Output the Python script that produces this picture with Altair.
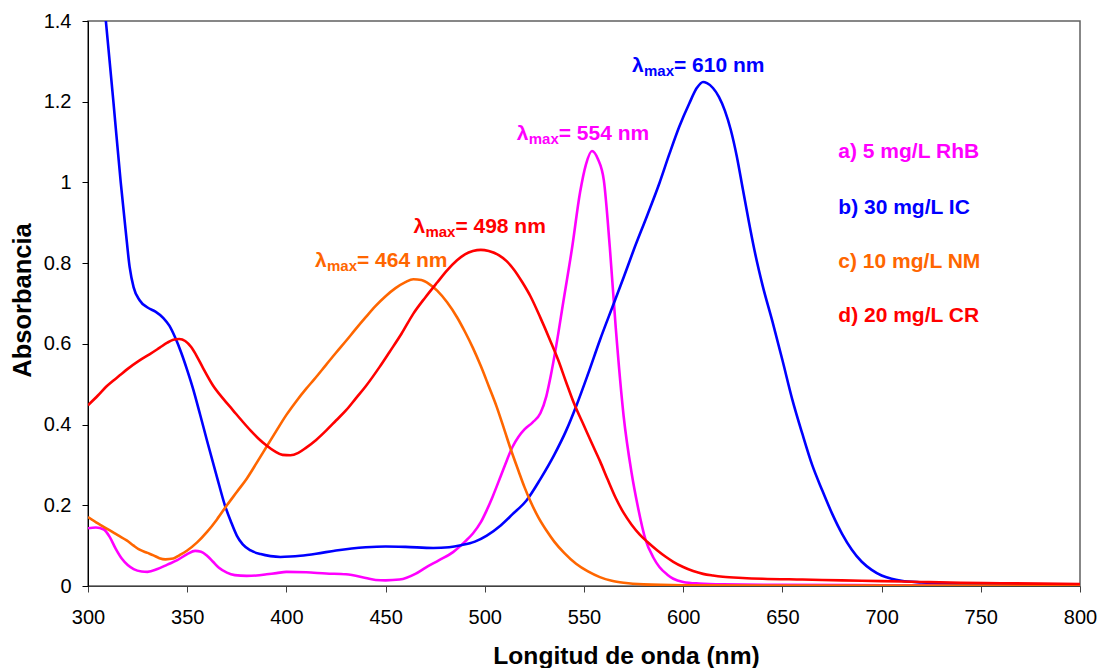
import altair as alt
import pandas as pd

# ---------------- data ----------------
series_names = ["a) 5 mg/L RhB", "b) 30 mg/L IC", "c) 10 mg/L NM", "d) 20 mg/L CR"]
series_colors = ["#FF00FF", "#0000FF", "#FF6600", "#FF0000"]

rhb_wl = [300, 304, 308, 311, 314, 317, 320, 323, 327, 330, 335, 340, 345, 350, 354, 357, 360, 363,
          366, 370, 374, 380, 385, 390, 395, 400, 410, 420, 430, 440, 445, 450, 457, 465, 470, 477,
          484, 490, 494, 498, 501, 504, 508, 511, 514, 517, 520, 524, 528, 531, 533, 536, 539.6, 544,
          548, 551, 554, 557, 560, 563, 566, 570, 574, 577, 581, 585, 588, 592, 595, 600, 608, 620,
          650, 700, 800]
rhb_abs = [0.143, 0.145, 0.140, 0.121, 0.092, 0.068, 0.052, 0.042, 0.036, 0.035, 0.042, 0.053, 0.064,
           0.079, 0.087, 0.085, 0.075, 0.060, 0.045, 0.033, 0.027, 0.025, 0.026, 0.029, 0.032, 0.035,
           0.034, 0.031, 0.029, 0.020, 0.015, 0.014, 0.016, 0.030, 0.045, 0.064, 0.084, 0.110, 0.130,
           0.158, 0.188, 0.222, 0.272, 0.310, 0.345, 0.370, 0.388, 0.405, 0.428, 0.470, 0.515, 0.595,
           0.705, 0.838, 0.975, 1.045, 1.078, 1.058, 1.005, 0.840, 0.640, 0.420, 0.280, 0.200, 0.115,
           0.070, 0.047, 0.028, 0.018, 0.010, 0.006, 0.004, 0.003, 0.002, 0.002]

ic_wl = [300, 305, 309, 312.8, 316.5, 319, 321, 323, 326, 330, 334, 338, 341, 344, 347, 350, 353,
         356.5, 360, 365, 369, 372, 375, 378, 382, 387, 392, 397, 402, 407, 415, 425, 440, 450, 460,
         474, 482, 488, 495, 501, 508, 514, 521, 528, 535, 541, 546, 552, 558, 565, 570, 575, 582,
         588, 593, 598, 603, 607, 610, 612, 615, 618, 621, 624, 627, 630, 633, 636, 640, 645, 650,
         655, 660, 665, 670, 675, 680, 685, 690, 695, 700, 705, 710, 720, 740, 760, 800]
ic_abs = [1.87, 1.61, 1.40, 1.20, 1.00, 0.88, 0.79, 0.74, 0.708, 0.690, 0.680, 0.664, 0.645, 0.615,
          0.578, 0.535, 0.488, 0.425, 0.360, 0.270, 0.200, 0.160, 0.125, 0.103, 0.088, 0.079, 0.074,
          0.072, 0.073, 0.075, 0.080, 0.088, 0.096, 0.098, 0.097, 0.094, 0.096, 0.101, 0.110, 0.125,
          0.150, 0.178, 0.212, 0.265, 0.325, 0.385, 0.445, 0.525, 0.609, 0.700, 0.765, 0.832, 0.920,
          0.998, 1.070, 1.138, 1.195, 1.235, 1.249, 1.246, 1.234, 1.212, 1.178, 1.130, 1.065, 0.985,
          0.905, 0.830, 0.745, 0.655, 0.560, 0.462, 0.378, 0.300, 0.238, 0.180, 0.130, 0.090, 0.060,
          0.040, 0.026, 0.018, 0.013, 0.009, 0.006, 0.004, 0.003]

nm_wl = [300, 305, 311, 315, 319.5, 323, 326, 330, 333, 336, 339, 343, 346, 350, 355, 360, 365, 370,
         375, 380, 385, 390, 395, 400, 405, 410, 414, 420, 425, 430, 435, 440, 445, 450, 455, 460,
         464, 468, 472, 476, 481, 486, 490, 494, 498, 502, 506, 510, 513, 517, 520, 523, 527, 531,
         535, 540, 546, 552, 558, 564, 570, 580, 600, 650, 700, 800]
nm_abs = [0.171, 0.155, 0.138, 0.126, 0.113, 0.100, 0.090, 0.082, 0.076, 0.069, 0.066, 0.068, 0.076,
          0.088, 0.108, 0.134, 0.165, 0.200, 0.233, 0.266, 0.305, 0.345, 0.385, 0.424, 0.458, 0.489,
          0.512, 0.548, 0.578, 0.607, 0.637, 0.666, 0.694, 0.718, 0.738, 0.753, 0.760, 0.758, 0.748,
          0.732, 0.703, 0.666, 0.630, 0.590, 0.545, 0.495, 0.444, 0.385, 0.340, 0.285, 0.245, 0.210,
          0.170, 0.138, 0.110, 0.082, 0.055, 0.036, 0.022, 0.013, 0.008, 0.004, 0.002, 0.001, 0.001,
          0.001]

cr_wl = [300, 305, 309, 313, 316, 320, 326, 331, 336, 340, 343, 346, 349, 352, 355, 358, 363, 368,
         373, 378, 382, 386, 390, 394, 398, 402, 406, 410, 415, 420, 425, 430, 435, 440, 447, 452,
         458, 464, 470, 476, 481, 486, 490, 494, 498, 502, 507, 511, 515, 519, 523, 528, 533, 537,
         541, 545, 550, 554, 558, 562, 566, 570, 574, 578, 582, 587, 591, 595, 600, 605, 610, 615,
         620, 630, 640, 660, 680, 700, 720, 740, 760, 800]
cr_abs = [0.448, 0.472, 0.493, 0.510, 0.522, 0.538, 0.559, 0.574, 0.590, 0.603, 0.610, 0.612, 0.607,
          0.592, 0.568, 0.540, 0.497, 0.465, 0.436, 0.407, 0.385, 0.365, 0.348, 0.334, 0.325, 0.324,
          0.330, 0.343, 0.362, 0.385, 0.410, 0.435, 0.465, 0.495, 0.543, 0.580, 0.625, 0.675, 0.715,
          0.752, 0.782, 0.807, 0.822, 0.830, 0.833, 0.830, 0.820, 0.805, 0.782, 0.752, 0.718, 0.665,
          0.608, 0.560, 0.505, 0.452, 0.397, 0.353, 0.310, 0.263, 0.218, 0.181, 0.152, 0.128, 0.109,
          0.088, 0.073, 0.060, 0.047, 0.037, 0.030, 0.026, 0.023, 0.020, 0.018, 0.016, 0.014, 0.012,
          0.010, 0.008, 0.007, 0.005]

x_ticks = [300, 350, 400, 450, 500, 550, 600, 650, 700, 750, 800]
y_ticks = [0, 0.2, 0.4, 0.6, 0.8, 1.0, 1.2, 1.4]

# peak annotations (lambda max) : text, anchor in data units
peak_text = ["= 554 nm", "= 610 nm", "= 464 nm", "= 498 nm"]
peak_wl = [516.1, 574.2, 414.4, 464.0]
peak_abs = [1.105, 1.273, 0.791, 0.874]

# series labels at right
label_wl = [678.2, 678.2, 678.2, 678.2]
label_abs = [1.060, 0.923, 0.787, 0.654]

FONT = "Liberation Sans"

# ---------------- build tables ----------------
frames = []
for name, wl, ab in zip(series_names, [rhb_wl, ic_wl, nm_wl, cr_wl], [rhb_abs, ic_abs, nm_abs, cr_abs]):
    frames.append(pd.DataFrame({"serie": name, "wl": wl, "abs": ab}))
df = pd.concat(frames, ignore_index=True)

peaks = pd.DataFrame({"wl": peak_wl, "abs": peak_abs, "txt": peak_text, "col": series_colors,
                      "lam": ["λ"] * 4, "sub": ["max"] * 4})
labels = pd.DataFrame({"wl": label_wl, "abs": label_abs, "txt": series_names, "col": series_colors})

xscale = alt.Scale(domain=[300, 800], nice=False, zero=False)
yscale = alt.Scale(domain=[0, 1.4], nice=False, zero=False)

x_axis = alt.Axis(values=x_ticks, title="Longitud de onda (nm)", grid=False,
                  labelFontSize=20, labelPadding=15, tickSize=6, labelFlush=False,
                  titleFontSize=24.6, titleX=538, titleY=77, titleAlign="center",
                  titleBaseline="alphabetic", domainColor="#404040", tickColor="#404040")
y_axis = alt.Axis(values=y_ticks, title="Absorbancia", grid=False,
                  labelFontSize=20, labelPadding=11, tickSize=6, labelFlush=False,
                  labelExpr="format(datum.value, '.1~f')",
                  titleFontSize=25.5, titleX=-66, titleY=279, titleAlign="center",
                  titleBaseline="middle", titleAngle=270,
                  domainColor="#000000", tickColor="#000000")

x_enc = alt.X("wl:Q", scale=xscale, axis=x_axis, title="Longitud de onda (nm)")
y_enc = alt.Y("abs:Q", scale=yscale, axis=y_axis, title="Absorbancia")

lines = alt.Chart(df).mark_line(clip=True, strokeWidth=2.6, interpolate="monotone").encode(
    x=x_enc, y=y_enc,
    color=alt.Color("serie:N", scale=alt.Scale(domain=series_names, range=series_colors), legend=None),
)

lam = alt.Chart(peaks).mark_text(align="left", baseline="alphabetic", font=FONT, fontWeight="bold",
                                  fontSize=21).encode(x=x_enc, y=y_enc, text="lam:N", color=alt.Color("col:N", scale=None))
sub = alt.Chart(peaks).mark_text(align="left", baseline="alphabetic", font=FONT, fontWeight="bold",
                                  fontSize=15, dx=12, dy=4).encode(x=x_enc, y=y_enc, text="sub:N", color=alt.Color("col:N", scale=None))
eq = alt.Chart(peaks).mark_text(align="left", baseline="alphabetic", font=FONT, fontWeight="bold",
                                 fontSize=21, dx=42).encode(x=x_enc, y=y_enc, text="txt:N", color=alt.Color("col:N", scale=None))
lab = alt.Chart(labels).mark_text(align="left", baseline="alphabetic", font=FONT, fontWeight="bold",
                                   fontSize=21).encode(x=x_enc, y=y_enc, text="txt:N", color=alt.Color("col:N", scale=None))

chart = alt.layer(lines, lam, sub, eq, lab).properties(
    width=992, height=565,
    autosize=alt.AutoSizeParams(type="none"),
    padding={"left": 88, "top": 21, "right": 21, "bottom": 82},
    background="white",
).configure_view(stroke="#606060", strokeWidth=1.5).configure_axis(
    labelFont=FONT, titleFont=FONT, labelColor="#000000", titleColor="#000000",
    titleFontWeight="bold",
)

chart.save("out.html", embed_options={"renderer": "svg", "actions": False})
